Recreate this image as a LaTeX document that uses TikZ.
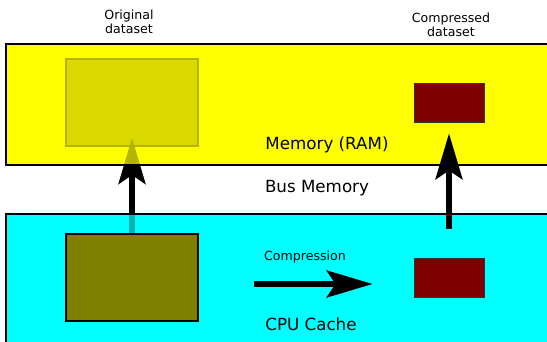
\documentclass[tikz,border=0pt]{standalone}
\usepackage{fontspec}
\setmainfont{DejaVu Sans}
\usetikzlibrary{positioning, arrows.meta}
\definecolor{myellow}{RGB}{255,255,0}
\definecolor{mcyan}{RGB}{0,255,255}
\definecolor{molive}{RGB}{128,128,0}
\definecolor{mmaroon}{RGB}{128,0,0}

\pgfdeclarelayer{back}
\pgfdeclarelayer{ghosted}
\pgfsetlayers{back,ghosted,main}

\tikzset{
  membox/.style={draw=black, line width=1.5pt, minimum width=554pt, minimum height=#1, inner sep=0pt},
  dataset/.style={draw=black, line width=2pt, fill=molive, minimum width=132pt, minimum height=87pt, inner sep=0pt},
  packed/.style={draw=black!80, line width=0.8pt, fill=mmaroon, minimum width=70pt, minimum height=39pt, inner sep=0pt},
  bigarrow/.style={line width=5.5pt, -{Stealth[length=46pt, width=27pt, inset=9pt]}},
  biglabel/.style={font=\fontsize{16.7}{20}\selectfont},
  smalllabel/.style={font=\fontsize{12.6}{14.5}\selectfont, align=center},
}

\begin{document}
\begin{tikzpicture}[x=1pt, y=-1pt]
  \useasboundingbox (0,0) rectangle (547,342);
  % memory areas are see-through, so what lies under them shows faded
  \node[membox=121pt, fill=myellow, fill opacity=.7] (ram) at (283,104.5) {};
  \node[membox=147pt, fill=mcyan, fill opacity=.7] (cache) at (283,287.5) {};
  \begin{pgfonlayer}{back}
    \fill[myellow] (ram.south west) rectangle (ram.north east);
    \fill[mcyan] (cache.south west) rectangle (cache.north east);
  \end{pgfonlayer}

  \node[dataset] (orig) at (132,277.5) {};
  \node[packed] (redhi) at (449,102.5) {};
  \node[packed] (redlo) at (449,277.5) {};

  % copy of the original dataset, under the RAM
  \begin{pgfonlayer}{ghosted}
    \node[dataset] (ghost) at (132,102.5) {};
    \draw[bigarrow] (orig.north) -- ([yshift=9pt]ghost.south);
  \end{pgfonlayer}

  \draw[bigarrow, shorten <=29pt, shorten >=11pt] (redlo.north) -- (redhi.south);
  \draw[bigarrow, shorten <=55pt, shorten >=41pt]
    ([yshift=-6.5pt]orig.east) -- ([yshift=-6.5pt]redlo.west);

  \node[smalllabel] (origlabel) at (129,22) {Original\\dataset};
  \node[smalllabel] (packlabel) at (451,25) {Compressed\\dataset};
  \node[smalllabel] (complabel) at (305,257) {Compression};
  \node[biglabel] (ramlabel) at (327,145) {Memory (RAM)};
  \node[biglabel] (buslabel) at (317,188) {Bus Memory};
  \node[biglabel] (cachelabel) at (311,324) {CPU Cache};
\end{tikzpicture}
\end{document}
